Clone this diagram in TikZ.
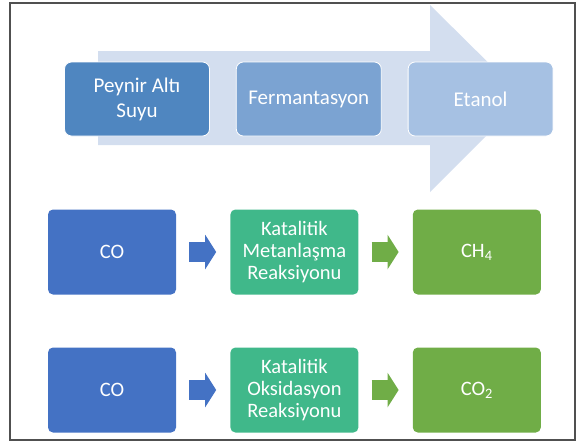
\documentclass[tikz,border=0pt]{standalone}
\usepackage{fontspec}
\setmainfont{Carlito}
\usetikzlibrary{positioning, arrows.meta}

\definecolor{bigarrow}{RGB}{211,222,239}
\definecolor{peynirblue}{RGB}{79,134,192}
\definecolor{fermblue}{RGB}{123,163,210}
\definecolor{etanolblue}{RGB}{166,193,227}
\definecolor{coblue}{RGB}{68,114,196}
\definecolor{katgreen}{RGB}{64,184,138}
\definecolor{chgreen}{RGB}{112,173,71}
\definecolor{framegray}{RGB}{80,80,80}

\begin{document}
\begin{tikzpicture}[x=1pt, y=-1pt]

        % Setup the styles for the boxes and arrows
        \tikzset{top box/.style={rectangle,
                                 rounded corners=7pt,
                                 draw=white,
                                 line width=0.8pt,
                                 minimum width=145pt,
                                 minimum height=74pt,
                                 inner sep=0pt,
                                 align=center,
                                 text=white,
                                 font=\fontsize{21}{25}\selectfont},
                 proc box/.style={rectangle,
                                  rounded corners=5pt,
                                  minimum width=128pt,
                                  minimum height=85pt,
                                  inner sep=0pt,
                                  align=center,
                                  text=white,
                                  font=\fontsize{20.5}{22}\selectfont},
                 block arrow/.style={line width=20pt,
                                     shorten <=13pt,
                                     shorten >=14pt,
                                     -{Triangle[length=11pt, width=34pt]}}}

        \useasboundingbox (0,0) rectangle (577,444);

        % Frame
        \draw[framegray, line width=1.5pt] (10,3) rectangle (575,440);

        % Big arrow behind the top row
        \fill[bigarrow] (98,51) -- (430,51) -- (430,5) -- (524,98)
                        -- (430,192) -- (430,145) -- (98,145) -- cycle;

        % Draw the top row
        \node[top box, fill=peynirblue] at (137, 99)          (peynir) {Peynir Altı\\Suyu};
        \node[top box, fill=fermblue, right=26pt of peynir]    (ferm)   {Fermantasyon};
        \node[top box, fill=etanolblue, right=26pt of ferm]    (etanol) {Etanol};

        % Draw the two reaction rows
        \node[proc box, fill=coblue] at (112, 252)            (co1)  {CO};
        \node[proc box, fill=katgreen, right=54pt of co1]      (kat1) {Katalitik\\Metanlaşma\\Reaksiyonu};
        \node[proc box, fill=chgreen, right=54pt of kat1]      (ch4)  {CH\textsubscript{4}};

        \node[proc box, fill=coblue] at (112, 390)            (co2)  {CO};
        \node[proc box, fill=katgreen, right=54pt of co2]      (kat2) {Katalitik\\Oksidasyon\\Reaksiyonu};
        \node[proc box, fill=chgreen, right=54pt of kat2]      (co2b) {CO\textsubscript{2}};

        % Connect the boxes with block arrows
        \draw[block arrow, coblue]  (co1)  -- (kat1);
        \draw[block arrow, chgreen] (kat1) -- (ch4);
        \draw[block arrow, coblue]  (co2)  -- (kat2);
        \draw[block arrow, chgreen] (kat2) -- (co2b);
    \end{tikzpicture}
\end{document}
